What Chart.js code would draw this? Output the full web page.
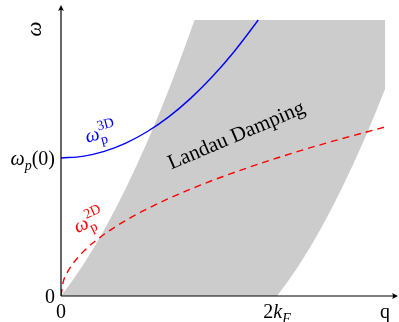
<!DOCTYPE html>
<html><head><meta charset="utf-8">
<script src="https://cdn.jsdelivr.net/npm/chart.js@4/dist/chart.umd.min.js"></script>
<style>html,body{margin:0;padding:0;background:#fff}#wrap{position:relative;width:399px;height:322px}</style>
</head><body><div id="wrap"><canvas id="c"></canvas></div>
<script>
// q in units of k_F, omega in plot units (omega_p(0) = 2)
const continuumUpper = [[0,0],[0.1,0.21],[0.2,0.44],[0.3,0.69],[0.4,0.96],[0.5,1.25],[0.6,1.56],[0.7,1.89],[0.8,2.24],[0.9,2.61],[1.0,3.0],[1.1,3.41],[1.2,3.84],[1.236,4.0],[3.0,4.0]];
const continuumLower = [[3.0,3.0],[2.9,2.61],[2.8,2.24],[2.7,1.89],[2.6,1.56],[2.5,1.25],[2.4,0.96],[2.3,0.69],[2.2,0.44],[2.1,0.21],[2.0,0],[0,0]];
const plasmon3D = [[0,2.0],[0.2,2.024],[0.4,2.096],[0.6,2.216],[0.8,2.384],[1.0,2.6],[1.2,2.864],[1.4,3.176],[1.6,3.536],[1.8,3.944],[1.826,4.0]];
const plasmon2D = [[0,0],[0.02,0.2],[0.05,0.316],[0.1,0.447],[0.2,0.632],[0.3,0.775],[0.5,1.0],[0.75,1.225],[1.0,1.414],[1.25,1.581],[1.5,1.732],[2.0,2.0],[2.5,2.236],[3.0,2.449]];
const xTickValues = [0, 2, 3];
const xTickLabels = ['0', '2k_F', 'q'];
const yTickValues = [0, 2];
const yTickLabels = ['0', 'ω_p(0)'];
const yAxisTitle = 'ω';
const label3D = 'ω_p^{3D}';
const label2D = 'ω_p^{2D}';
const regionLabel = 'Landau Damping';

const FONT = '"Liberation Serif","Times New Roman",serif';
const toXY = a => a.map(p => ({x: p[0], y: p[1]}));

function tokens(str){
  const out = []; let i = 0;
  const grab = () => { if (str[i] === '{') { const j = str.indexOf('}', i); const s = str.slice(i+1, j); i = j+1; return s; } return str[i++]; };
  while (i < str.length){
    const c = str[i];
    if (c === '_' || c === '^'){
      i++; const s = grab();
      let last = out[out.length-1];
      if (!last || last.base !== undefined){ last = {sub:'', sup:''}; out.push(last); }
      if (c === '_') last.sub = s; else last.sup = s;
    } else { out.push({base:c}); i++; }
  }
  return out;
}
const isItalic = (ch, roman) => !roman && /[a-zA-Zα-ω]/.test(ch);
function drawMath(ctx, str, x, y, o){
  const size = o.size || 19, ss = o.ss || Math.round(size*0.7);
  const font = (it, sz) => (it ? 'italic ' : '') + sz + 'px ' + FONT;
  const runs = []; let w = 0;
  for (const t of tokens(str)){
    if (t.base !== undefined){
      const f = font(isItalic(t.base, o.roman), size); ctx.font = f;
      runs.push({s:t.base, f, x:w, dy:0}); w += ctx.measureText(t.base).width;
    } else {
      let adv = 0;
      for (const [s, dy] of [[t.sub, size*0.27], [t.sup, -size*0.45]]) if (s){
        let xx = w;
        for (const ch of s){ const f = font(isItalic(ch, o.roman || o.romanScripts), ss); ctx.font = f; runs.push({s:ch, f, x:xx, dy}); xx += ctx.measureText(ch).width; }
        adv = Math.max(adv, xx - w);
      }
      w += adv;
    }
  }
  ctx.save(); ctx.translate(x, y); if (o.rotate) ctx.rotate(o.rotate*Math.PI/180);
  const x0 = o.align === 'right' ? -w : o.align === 'center' ? -w/2 : 0;
  ctx.fillStyle = o.color || '#000'; ctx.textBaseline = 'alphabetic'; ctx.textAlign = 'left';
  for (const r of runs){ ctx.font = r.f; ctx.fillText(r.s, x0 + r.x, r.dy); }
  ctx.restore();
}

const decor = {
  id: 'decor',
  afterDatasetsDraw(chart){
    const {ctx, chartArea: a, scales: {x, y}} = chart;
    const x0 = x.getPixelForValue(0), y0 = y.getPixelForValue(0);
    ctx.save();
    ctx.strokeStyle = '#000'; ctx.fillStyle = '#000'; ctx.lineWidth = 1.2;
    ctx.beginPath(); ctx.moveTo(x0, y0); ctx.lineTo(a.right - 2, y0); ctx.stroke();
    ctx.beginPath(); ctx.moveTo(x0, y0); ctx.lineTo(x0, a.top + 2); ctx.stroke();
    // arrow heads
    ctx.beginPath(); ctx.moveTo(a.right, y0); ctx.lineTo(a.right - 6, y0 - 3); ctx.quadraticCurveTo(a.right - 4, y0, a.right - 6, y0 + 3); ctx.closePath(); ctx.fill();
    ctx.beginPath(); ctx.moveTo(x0, a.top); ctx.lineTo(x0 - 3, a.top + 6); ctx.quadraticCurveTo(x0, a.top + 4, x0 + 3, a.top + 6); ctx.closePath(); ctx.fill();
    ctx.restore();
    // tick labels
    xTickValues.forEach((v, i) => drawMath(ctx, xTickLabels[i], x.getPixelForValue(v), 318, {size: 20, align: 'center', roman: xTickLabels[i] === 'q'}));
    yTickValues.forEach((v, i) => drawMath(ctx, yTickLabels[i], x0 - 6, y.getPixelForValue(v) + 7, {size: 20, align: 'right'}));
    drawMath(ctx, yAxisTitle, 41, 29, {size: 21, align: 'center', rotate: -90});
    // curve and region labels
    drawMath(ctx, label3D, x.getPixelForValue(0.24), y.getPixelForValue(2.22), {size: 20, ss: 14, rotate: -15, color: '#0000ff', romanScripts: true});
    drawMath(ctx, label2D, x.getPixelForValue(0.15), y.getPixelForValue(0.91), {size: 20, ss: 14, rotate: -25, color: '#ff0000', romanScripts: true});
    drawMath(ctx, regionLabel, x.getPixelForValue(1.645), y.getPixelForValue(2.246), {size: 21, align: 'center', rotate: -23, roman: true});
  }
};

new Chart(document.getElementById('c'), {
  type: 'scatter',
  data: {
    datasets: [
      {label: 'ω_p 3D', data: toXY(plasmon3D), showLine: true, borderColor: '#0000ff', borderWidth: 1.4, pointRadius: 0, cubicInterpolationMode: 'monotone', fill: false, order: 1},
      {label: 'ω_p 2D', data: toXY(plasmon2D), showLine: true, borderColor: '#ff0000', borderWidth: 1.4, borderDash: [7, 5], pointRadius: 0, cubicInterpolationMode: 'monotone', fill: false, order: 2},
      {label: 'Landau damping', data: toXY(continuumUpper.concat(continuumLower)), showLine: true, borderWidth: 0, borderColor: 'rgba(0,0,0,0)', backgroundColor: '#cccccc', pointRadius: 0, tension: 0, fill: 'shape', order: 3}
    ]
  },
  options: {
    responsive: true, maintainAspectRatio: false, animation: false,
    layout: {padding: {left: 61, right: 1, top: 5, bottom: 26}},
    plugins: {legend: {display: false}, tooltip: {enabled: false}},
    scales: {
      x: {type: 'linear', min: 0, max: 3.12, display: false},
      y: {type: 'linear', min: 0, max: 4.217, display: false}
    }
  },
  plugins: [decor]
});
</script></body></html>
